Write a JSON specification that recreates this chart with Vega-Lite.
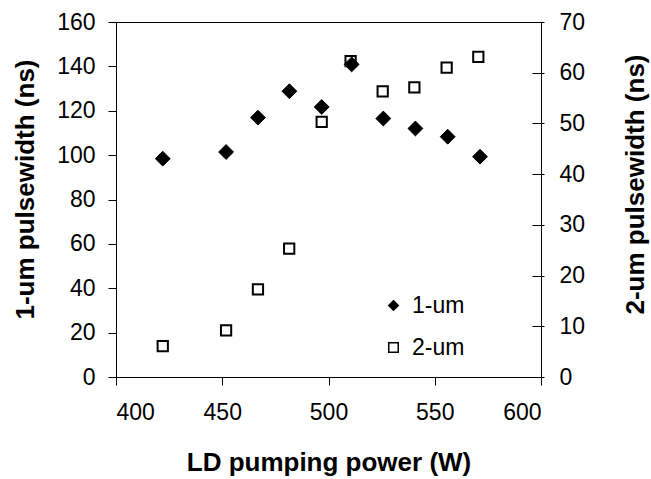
{
  "$schema": "https://vega.github.io/schema/vega-lite/v6.json",
  "width": 425,
  "height": 355,
  "autosize": {"type": "none"},
  "padding": {"left": 116, "top": 22, "right": 110, "bottom": 102},
  "background": "white",
  "config": {
    "font": "Liberation Sans",
    "view": {"stroke": "black", "strokeWidth": 1},
    "axis": {
      "domainColor": "black", "tickColor": "black", "labelColor": "black", "titleColor": "black",
      "labelFont": "Liberation Sans", "titleFont": "Liberation Sans",
      "labelFontSize": 23, "titleFontSize": 26, "titleFontWeight": "bold",
      "grid": false, "domainWidth": 1, "tickWidth": 1
    },
    "legend": {
      "title": null, "orient": "none", "legendX": 266, "legendY": 272,
      "labelFontSize": 23, "labelColor": "black", "labelFont": "Liberation Sans",
      "symbolSize": 90, "symbolStrokeColor": "black", "symbolStrokeWidth": 1.5,
      "rowPadding": 18, "labelOffset": 7, "padding": 0
    }
  },
  "data": {
    "values": [
      {"power": 422.0, "series": "1-um", "width": 98.4},
      {"power": 451.8, "series": "1-um", "width": 101.4},
      {"power": 466.8, "series": "1-um", "width": 116.9},
      {"power": 481.6, "series": "1-um", "width": 128.8},
      {"power": 496.8, "series": "1-um", "width": 121.7},
      {"power": 510.9, "series": "1-um", "width": 140.9},
      {"power": 525.8, "series": "1-um", "width": 116.5},
      {"power": 540.9, "series": "1-um", "width": 112.0},
      {"power": 556.1, "series": "1-um", "width": 108.3},
      {"power": 571.3, "series": "1-um", "width": 99.3},
      {"power": 422.0, "series": "2-um", "width": 6.1},
      {"power": 451.8, "series": "2-um", "width": 9.2},
      {"power": 466.8, "series": "2-um", "width": 17.3},
      {"power": 481.5, "series": "2-um", "width": 25.3},
      {"power": 496.8, "series": "2-um", "width": 50.3},
      {"power": 510.4, "series": "2-um", "width": 62.3},
      {"power": 525.5, "series": "2-um", "width": 56.3},
      {"power": 540.4, "series": "2-um", "width": 57.1},
      {"power": 555.6, "series": "2-um", "width": 61.0},
      {"power": 570.5, "series": "2-um", "width": 63.1}
    ]
  },
  "encoding": {
    "x": {
      "field": "power", "type": "quantitative",
      "scale": {"domain": [400, 600], "nice": false, "zero": false},
      "axis": {
        "title": "LD pumping power (W)", "values": [400, 450, 500, 550, 600],
        "tickSize": 8, "labelPadding": 16, "titleBaseline": "top", "titleY": 72, "titleX": 212.5
      }
    },
    "shape": {
      "field": "series", "type": "nominal",
      "scale": {"domain": ["1-um", "2-um"], "range": ["diamond", "square"]},
      "legend": {"title": null}
    },
    "fill": {
      "field": "series", "type": "nominal",
      "scale": {"domain": ["1-um", "2-um"], "range": ["black", "white"]},
      "legend": {"title": null}
    },
    "stroke": {
      "field": "series", "type": "nominal",
      "scale": {"domain": ["1-um", "2-um"], "range": ["black", "black"]},
      "legend": {"title": null}
    }
  },
  "layer": [
    {
      "transform": [{"filter": "datum.series === '2-um'"}],
      "mark": {"type": "point", "filled": true, "strokeWidth": 2, "size": 105, "opacity": 1},
      "encoding": {
        "y": {
          "field": "width", "type": "quantitative",
          "scale": {"domain": [0, 70], "nice": false},
          "axis": {
            "orient": "right", "title": "2-um pulsewidth (ns)", "values": [0, 10, 20, 30, 40, 50, 60, 70],
            "offset": -9, "domain": false, "tickSize": 12, "labelPadding": 15,
            "titleAngle": 270, "titleBaseline": "bottom", "titleX": 116, "titleY": 162
          }
        }
      }
    },
    {
      "transform": [{"filter": "datum.series === '1-um'"}],
      "mark": {"type": "point", "filled": true, "strokeWidth": 1, "size": 220, "opacity": 1},
      "encoding": {
        "y": {
          "field": "width", "type": "quantitative",
          "scale": {"domain": [0, 160], "nice": false},
          "axis": {
            "orient": "left", "title": "1-um pulsewidth (ns)", "values": [0, 20, 40, 60, 80, 100, 120, 140, 160],
            "tickSize": 8, "labelPadding": 13,
            "titleAngle": 270, "titleBaseline": "bottom", "titleX": -78, "titleY": 167
          }
        }
      }
    }
  ],
  "resolve": {"scale": {"y": "independent"}}
}
